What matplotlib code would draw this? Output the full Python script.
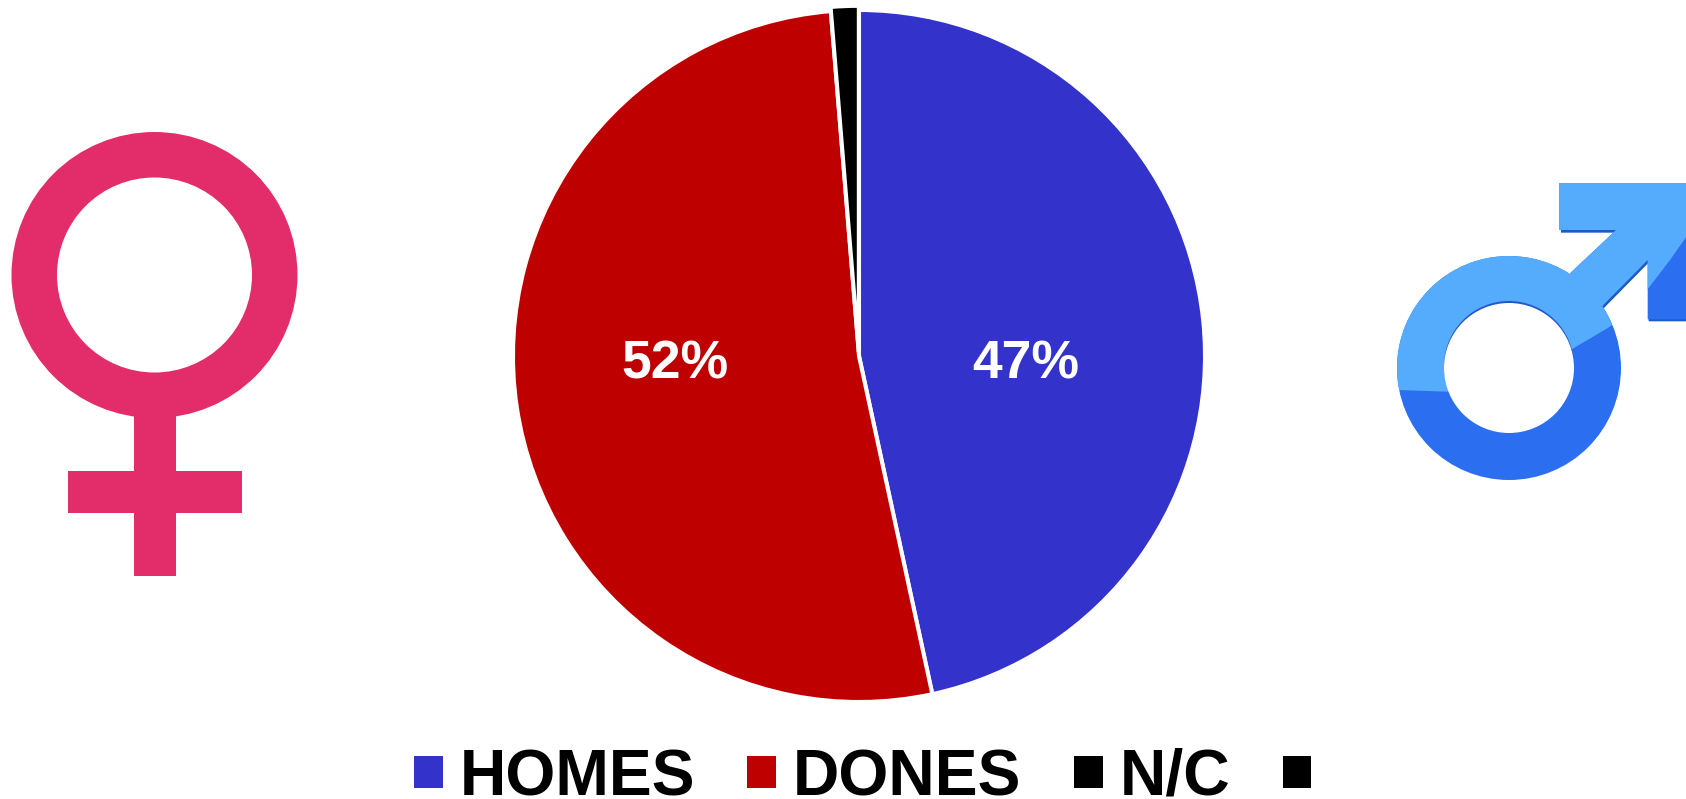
import matplotlib
matplotlib.use("Agg")
import matplotlib.pyplot as plt
import numpy as np
from matplotlib.patches import Circle, Rectangle, PathPatch, Polygon
from matplotlib.path import Path

categories = ["HOMES", "DONES", "N/C", ""]
values = [46.6, 52.1, 1.3, 0.0]
colors = ["#3333CC", "#BF0000", "#000000", "#000000"]
shown = ["47%", "52%", "", ""]
label_xy = [(0.483, -0.024), (-0.532, -0.024)]

W, H = 1686, 799
plt.rcParams["font.family"] = ["Liberation Sans", "DejaVu Sans"]
fig = plt.figure(figsize=(W / 100, H / 100), dpi=100, facecolor="white")

# pixel overlay for the two gender symbols
bg = fig.add_axes([0, 0, 1, 1])
bg.set_xlim(0, W)
bg.set_ylim(H, 0)
bg.axis("off")

# female symbol
pink = "#E32D6B"
bg.add_patch(Rectangle((133.5, 400), 42, 176, fc=pink, ec="none"))
bg.add_patch(Rectangle((67.5, 471), 174.5, 42, fc=pink, ec="none"))
bg.add_patch(Circle((154.5, 275), 143, fc=pink, ec="none"))
bg.add_patch(Circle((154.5, 275), 97.5, fc="white", ec="none"))


def zm(pts):
    return [(1380 + x / 3, 170 + y / 3) for x, y in pts]


# male symbol
cx, cy, ro, ri = 1509, 368, 112, 65
dark = "#2B6FF0"
light = "#55ABFC"
shadow = "#1F5BC8"
head = zm([(537, 40), (930, 40), (930, 448), (803, 448), (803, 270), (665, 410),
           (570, 310), (708, 180), (537, 180)])
head_shadow = zm([(537, 48), (930, 48), (930, 454), (806, 454), (806, 278), (668, 418),
                  (570, 318), (712, 188), (543, 188)])
bg.add_patch(Polygon(head_shadow, closed=True, fc=shadow, ec="none"))
bg.add_patch(Polygon(head, closed=True, fc=dark, ec="none"))
bg.add_patch(Circle((cx, cy), ro, fc=dark, ec="none"))
theta = np.linspace(0, 2 * np.pi, 200)
outer = np.c_[cx + ro * np.cos(theta), cy + ro * np.sin(theta)]
light_region = zm([(0, 0), (930, 0), (930, 185), (870, 270), (805, 355), (690, 470), (580, 535),
                   (400, 640), (200, 665), (55, 660), (0, 655)])
lp = Polygon(light_region, closed=True, fc=light, ec="none", zorder=3)
bg.add_patch(lp)
verts = np.r_[outer, [outer[0]], np.array(head), [head[0]]]
codes = ([Path.MOVETO] + [Path.LINETO] * (len(outer) - 1) + [Path.CLOSEPOLY]
         + [Path.MOVETO] + [Path.LINETO] * (len(head) - 1) + [Path.CLOSEPOLY])
lp.set_clip_path(PathPatch(Path(verts, codes), transform=bg.transData))
bg.add_patch(Circle((cx, cy - 2), ri, fc=shadow, ec="none", zorder=4))
bg.add_patch(Circle((cx, cy), ri, fc="white", ec="none", zorder=5))

# pie
R = 346
cxp, cyp = 859, 356
half = R * 1.1
ax = fig.add_axes([(cxp - half) / W, 1 - (cyp + half) / H, 2 * half / W, 2 * half / H])
wedges, _ = ax.pie(values, colors=colors, startangle=90, counterclock=False, radius=1,
                   explode=[0, 0, 0.012, 0],
                   wedgeprops=dict(edgecolor="white", linewidth=2.9))
ax.set_xlim(-1.1, 1.1)
ax.set_ylim(-1.1, 1.1)
for (x, y), s in zip(label_xy, shown):
    ax.text(x, y, s, color="white", fontsize=38.5, fontweight="bold", ha="center", va="center")

# legend
handles = [Rectangle((0, 0), 1, 1, fc=c, ec="none") for c in colors]
fig.legend(handles, categories, loc="center left",
           bbox_to_anchor=(414 / W, 1 - 778 / H), ncol=4, frameon=False,
           prop=dict(size=46.25, weight="bold"), handlelength=0.45, handleheight=0.37,
           handletextpad=0.26, columnspacing=0.815, borderpad=0, borderaxespad=0)

fig.savefig("out.png", dpi=100, facecolor="white")
